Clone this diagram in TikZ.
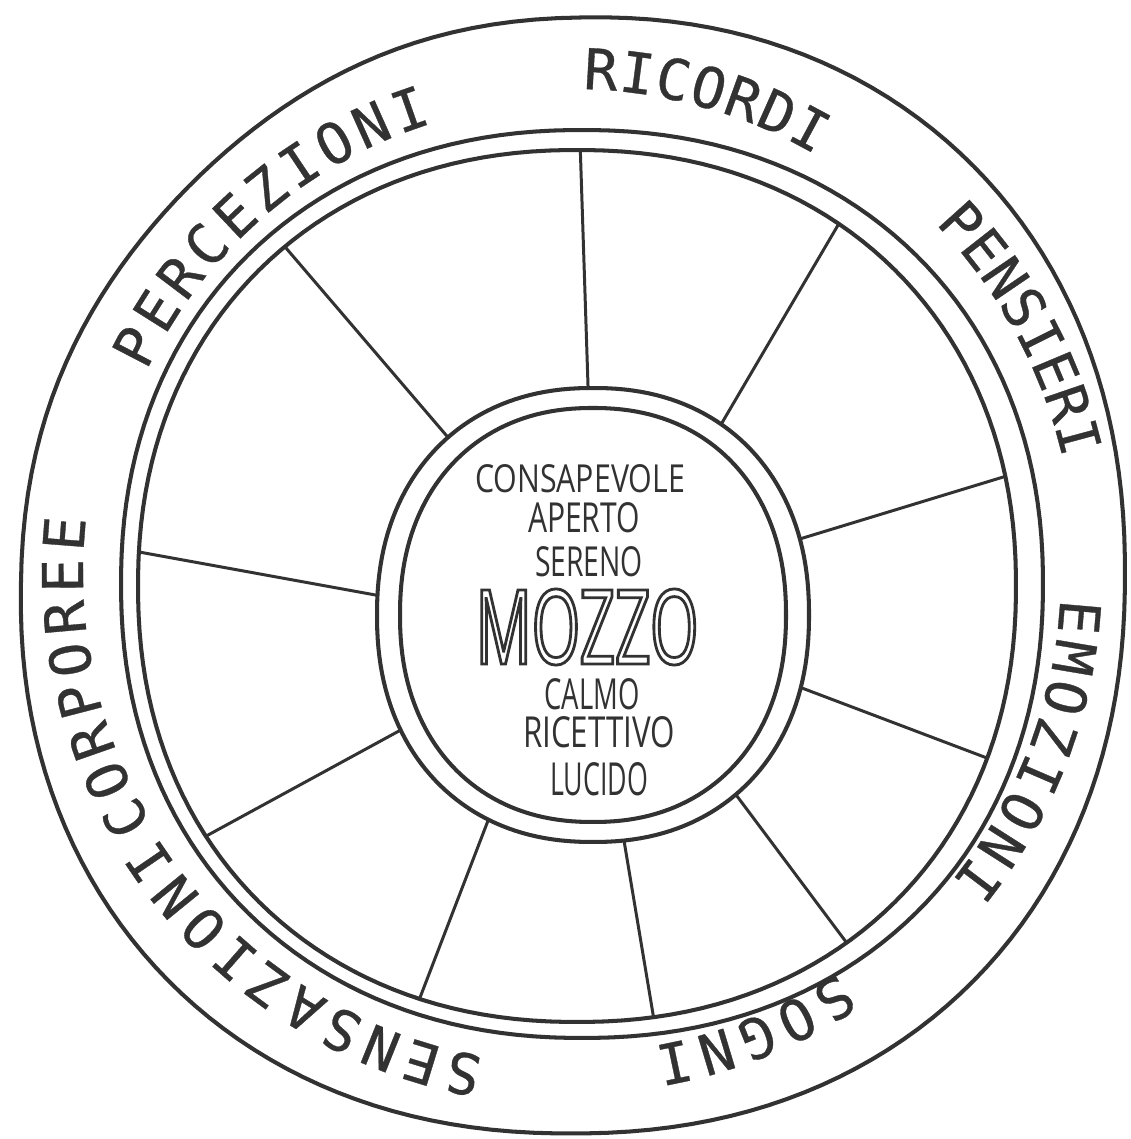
\documentclass[tikz,border=0pt]{standalone}
\usepackage{fontspec}
\usepackage{graphicx}
\usetikzlibrary{decorations.text,calc}
\setmainfont{Open Sans}
\newfontfamily\lblfont{DejaVu Sans Mono}[FakeBold=0.6]
\newfontfamily\hubfont{Open Sans}
\newfontfamily\mozzofont{Open Sans}[FakeStretch=0.6]
\definecolor{ink}{RGB}{50,50,50}
\newcommand\hollowtext[1]{\special{pdf:literal direct 1 Tr 1.6 w}#1\special{pdf:literal direct 0 Tr}}
\begin{document}
\begin{tikzpicture}[x=0.02cm,y=0.02cm,
  ring/.style={draw=ink,line width=2.3pt,line join=round},
  spoke/.style={draw=ink,line width=1.7pt,line cap=round},
  word/.style={text=ink,inner sep=0pt},
  arclabel/.style={decorate,decoration={text along path,text color=ink,
     text align={fit to path},text={|\lblfont\fontsize{32}{32}\selectfont|#1}}}]
\useasboundingbox (0,0) rectangle (1130,1139);
\fill[white] (0,0) rectangle (1130,1139);

% outer ring (rounded, dented at upper left)
\draw[ring] plot[variable=\t,domain=1:361,samples=181]
 ({571+554*(1-0.05*((1+cos(\t-135))/2)^12)*cos(\t)*abs(cos(\t))^(-0.08)},
  {565.5+560*(1-0.05*((1+cos(\t-135))/2)^12)*sin(\t)*abs(sin(\t))^(-0.08)}) -- cycle;

% rim lines
\draw[ring] plot[variable=\t,domain=1:361,samples=181]
 ({582+461*cos(\t)*abs(cos(\t))^(-0.07)},{555+454*sin(\t)*abs(sin(\t))^(-0.07)}) -- cycle;
\draw[ring] plot[variable=\t,domain=1:361,samples=181]
 ({577+439*cos(\t)*abs(cos(\t))^(-0.07)},{553+436*sin(\t)*abs(sin(\t))^(-0.07)}) -- cycle;

% hub
\draw[ring] plot[variable=\t,domain=1:361,samples=181]
 ({593+216*cos(\t)*abs(cos(\t))^(-0.09)},{524+227*sin(\t)*abs(sin(\t))^(-0.09)}) -- cycle;
\draw[ring] plot[variable=\t,domain=1:361,samples=181]
 ({593+193*cos(\t)*abs(cos(\t))^(-0.09)},{524+207*sin(\t)*abs(sin(\t))^(-0.09)}) -- cycle;

% spoke ends
\foreach \n/\a in {1/90.9,2/55.7,3/17.5,4/-16.6,5/-50.6,6/-83.2,7/243.2,8/208.3,9/176.1,10/130.2}
  {\coordinate (hub\n) at ({593+216*cos(\a)*abs(cos(\a))^(-0.09)},{524+227*sin(\a)*abs(sin(\a))^(-0.09)});}
\foreach \n/\a in {1/89.7,2/55.0,3/13.1,4/-21.6,5/-53.7,6/-81.2,7/250.6,8/213.4,9/176.3,10/130.2}
  {\coordinate (rim\n) at ({577+439*cos(\a)*abs(cos(\a))^(-0.07)},{553+436*sin(\a)*abs(sin(\a))^(-0.07)});}
\foreach \n in {1,...,10} {\draw[spoke] (rim\n) -- (hub\n);}

% ring labels
\coordinate (C) at (572,566);
\path[arclabel=RICORDI] (C) ++(88.7:484) arc[start angle=88.7,end angle=59.8,radius=484];
\path[arclabel=PENSIERI] (C) ++(43.9:504) arc[start angle=43.9,end angle=13.8,radius=504];
\path[arclabel=EMOZIONI] (C) ++(-3.0:489) arc[start angle=-3.0,end angle=-39.1,radius=489];
\path[arclabel=SOGNI] (C) ++(-56.3:480) arc[start angle=-56.3,end angle=-80.2,radius=480];
\path[arclabel=SENSAZIONI] (C) ++(259.7:492) arc[start angle=259.7,end angle=212.4,radius=492];
\path[arclabel=CORPOREE] (C) ++(210.8:489) arc[start angle=210.8,end angle=173.6,radius=489];
\path[arclabel=PERCEZIONI] (C) ++(154.6:471) arc[start angle=154.6,end angle=107.3,radius=471];

% hub words
\node[word] (w1) at (580,660) {\resizebox{4.2cm}{0.56cm}{\hubfont CONSAPEVOLE}};
\node[word] (w2) at (584,621) {\resizebox{2.24cm}{0.60cm}{\hubfont APERTO}};
\node[word] (w3) at (589,577) {\resizebox{2.16cm}{0.60cm}{\hubfont SERENO}};
\node[word] (mozzo) at (587,512) {\mozzofont\fontsize{59}{59}\selectfont\hollowtext{MOZZO}};
\node[word] (w4) at (592,445) {\resizebox{1.9cm}{0.62cm}{\hubfont CALMO}};
\node[word] (w5) at (599,407) {\resizebox{3.04cm}{0.62cm}{\hubfont RICETTIVO}};
\node[word] (w6) at (599,360) {\resizebox{1.96cm}{0.66cm}{\hubfont LUCIDO}};
\end{tikzpicture}
\end{document}
